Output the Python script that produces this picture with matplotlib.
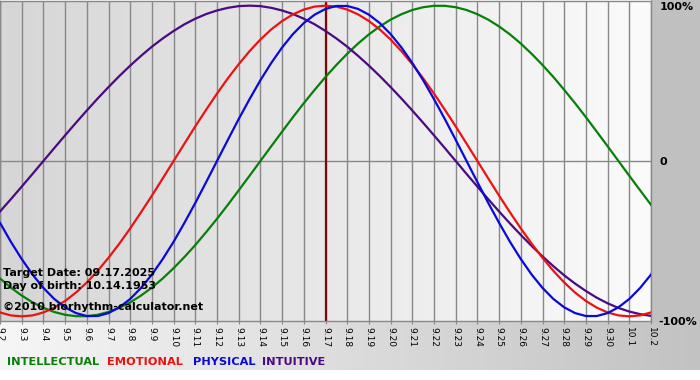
import numpy as np
import matplotlib.pyplot as plt

# fechas del eje x (9.2 .. 10.2)
fechas = ["9.%d" % d for d in range(2, 31)] + ["10.1", "10.2"]

# posicion de cada lectura, en dias desde 9.2 (cada medio dia)
dias = np.arange(0, 30.5, 0.5)

# valores, en %
fisico = [-39.8, -52.0, -63.1, -73.1, -81.7, -88.8, -94.2, -97.9, -99.8, -99.8,
          -97.9, -94.2, -88.8, -81.7, -73.1, -63.1, -52.0, -39.8, -27.0, -13.6,
          0.0, 13.6, 27.0, 39.8, 52.0, 63.1, 73.1, 81.7, 88.8, 94.2,
          97.9, 99.8, 99.8, 97.9, 94.2, 88.8, 81.7, 73.1, 63.1, 52.0,
          39.8, 27.0, 13.6, 0.0, -13.6, -27.0, -39.8, -52.0, -63.1, -73.1,
          -81.7, -88.8, -94.2, -97.9, -99.8, -99.8, -97.9, -94.2, -88.8, -81.7, -73.1]
emocional = [-97.5, -99.4, -100.0, -99.4, -97.5, -94.4, -90.1, -84.7, -78.2, -70.7,
             -62.3, -53.2, -43.4, -33.0, -22.3, -11.2, 0.0, 11.2, 22.3, 33.0,
             43.4, 53.2, 62.3, 70.7, 78.2, 84.7, 90.1, 94.4, 97.5, 99.4,
             100.0, 99.4, 97.5, 94.4, 90.1, 84.7, 78.2, 70.7, 62.3, 53.2,
             43.4, 33.0, 22.3, 11.2, 0.0, -11.2, -22.3, -33.0, -43.4, -53.2,
             -62.3, -70.7, -78.2, -84.7, -90.1, -94.4, -97.5, -99.4, -100.0, -99.4, -97.5]
intelectual = [-75.6, -81.5, -86.6, -91.0, -94.5, -97.2, -99.0, -99.9, -99.9, -99.0,
               -97.2, -94.5, -91.0, -86.6, -81.5, -75.6, -69.0, -61.8, -54.1, -45.8,
               -37.2, -28.2, -18.9, -9.5, 0.0, 9.5, 18.9, 28.2, 37.2, 45.8,
               54.1, 61.8, 69.0, 75.6, 81.5, 86.6, 91.0, 94.5, 97.2, 99.0,
               99.9, 99.9, 99.0, 97.2, 94.5, 91.0, 86.6, 81.5, 75.6, 69.0,
               61.8, 54.1, 45.8, 37.2, 28.2, 18.9, 9.5, 0.0, -9.5, -18.9, -28.2]
intuitivo = [-32.5, -24.6, -16.5, -8.3, 0.0, 8.3, 16.5, 24.6, 32.5, 40.2,
             47.6, 54.7, 61.4, 67.7, 73.6, 78.9, 83.7, 88.0, 91.6, 94.6,
             96.9, 98.6, 99.7, 100.0, 99.7, 98.6, 96.9, 94.6, 91.6, 88.0,
             83.7, 78.9, 73.6, 67.7, 61.4, 54.7, 47.6, 40.2, 32.5, 24.6,
             16.5, 8.3, 0.0, -8.3, -16.5, -24.6, -32.5, -40.2, -47.6, -54.7,
             -61.4, -67.7, -73.6, -78.9, -83.7, -88.0, -91.6, -94.6, -96.9, -98.6, -99.7]
dia_objetivo = "9.17"

W, H = 700, 380
fig = plt.figure(figsize=(W / 100, H / 100), dpi=100)
fig.patch.set_facecolor("white")

# fondo en coordenadas de pixel
fondo = fig.add_axes([0, 0, 1, 1], zorder=-1)
fondo.set_xlim(0, W)
fondo.set_ylim(H, 0)
fondo.axis("off")
grad = np.linspace(0, 1, 256).reshape(1, -1)
fondo.imshow(grad, extent=(0, W, 370, 321), cmap=plt.matplotlib.colors.LinearSegmentedColormap.from_list(
    "g1", ["#f6f6f6", "#c2c2c2"]), aspect="auto", zorder=0)
fondo.add_patch(plt.Rectangle((651, 0), 49, 321, color="#c0c0c0", zorder=1))

# area del grafico
ax = fig.add_axes([0, (H - 321) / H, 651 / W, 320 / H], zorder=1)
x = np.arange(len(fechas))
ax.imshow(grad, extent=(0, len(fechas) - 1, -103, 103), cmap=plt.matplotlib.colors.LinearSegmentedColormap.from_list(
    "g2", ["#d6d6d6", "#fbfbfb"]), aspect="auto", zorder=0)
ax.set_xlim(0, len(fechas) - 1)
ax.set_ylim(-103, 103)

for xi in x:
    ax.axvline(xi, color="#888888", lw=1, zorder=1)
ax.axhline(0, color="#888888", lw=1, zorder=1)

i_obj = fechas.index(dia_objetivo)
ax.axvline(i_obj, color="#7a0a0a", lw=1.6, zorder=2)

ax.plot(dias, intelectual, color="#078007", lw=1.6, zorder=3)
ax.plot(dias, intuitivo, color="#4b0a82", lw=1.6, zorder=3)
ax.plot(dias, emocional, color="#ee1111", lw=1.6, zorder=3)
ax.plot(dias, fisico, color="#0a0ad8", lw=1.6, zorder=3)

ax.set_xticks(x)
ax.set_xticklabels(fechas, rotation=-90, fontsize=6.5)
ax.tick_params(axis="x", length=2, color="#888888", pad=2)
ax.set_yticks([])
for s in ax.spines.values():
    s.set_color("#888888")
    s.set_linewidth(1)

# textos
fondo.text(660, 7, "100%", fontsize=8, fontweight="bold", va="center", ha="left")
fondo.text(660, 162, "0", fontsize=8, fontweight="bold", va="center", ha="left")
fondo.text(658, 322, "-100%", fontsize=8, fontweight="bold", va="center", ha="left")

fig.text(3 / W, 1 - 273 / H, "Target Date: 09.17.2025", fontsize=8, fontweight="bold", va="center", zorder=5)
fig.text(3 / W, 1 - 286 / H, "Day of birth: 10.14.1953", fontsize=8, fontweight="bold", va="center", zorder=5)
fig.text(3 / W, 1 - 307 / H, "\u00a92010 biorhythm-calculator.net", fontsize=8, fontweight="bold", va="center", zorder=5)

leyenda = [("INTELLECTUAL", "#078007", 7), ("EMOTIONAL", "#ee1111", 107),
           ("PHYSICAL", "#0a0ad8", 193), ("INTUITIVE", "#4b0a82", 262)]
for nombre, col, px in leyenda:
    fondo.text(px, 362, nombre, color=col, fontsize=8.2, fontweight="bold", va="center", ha="left")

plt.savefig("out.png", dpi=100)
